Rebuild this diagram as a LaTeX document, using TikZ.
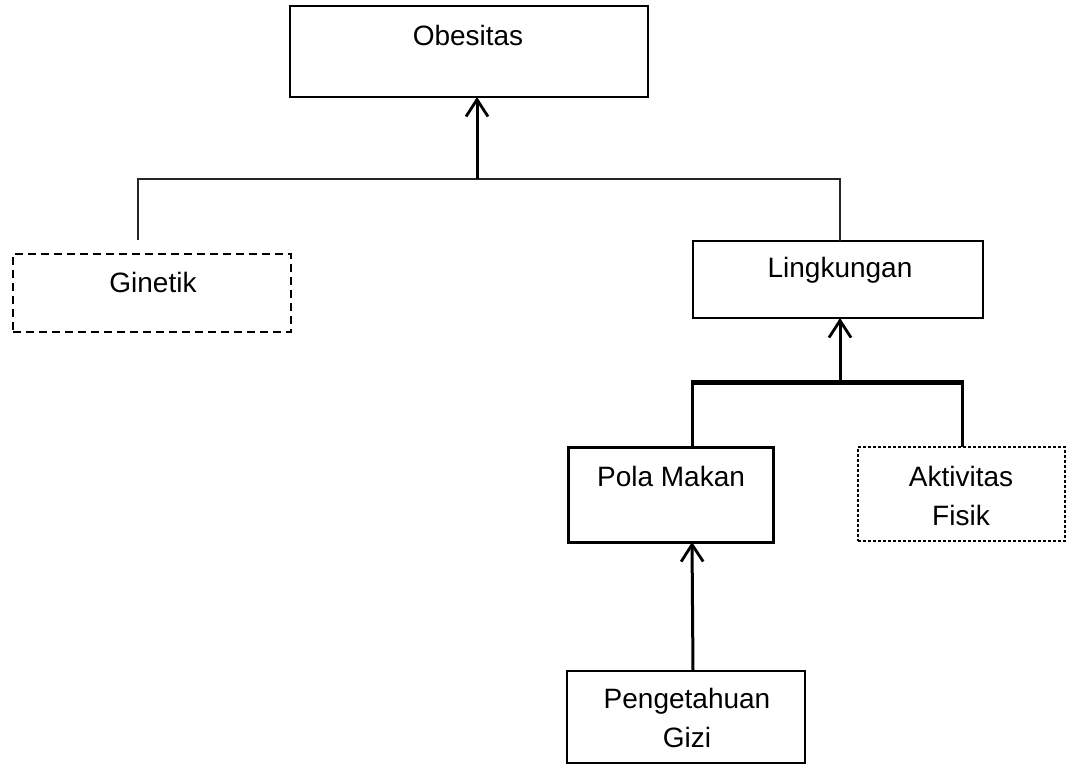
\documentclass[tikz,border=0pt]{standalone}
\usepackage{fontspec}
\setmainfont{Liberation Sans}
\usetikzlibrary{arrows.meta}
\tikzset{
  boxn/.style={draw, inner sep=0pt, outer sep=0pt, line width=#1},
  boxn/.default=1.9pt,
  lbl/.style={inner sep=0pt, align=center, font=\fontsize{28pt}{39pt}\selectfont},
  thinline/.style={line width=1.4pt, draw=black!85},
  arr/.style={line width=3pt, -{Straight Barb[length=17pt,width=22pt,line width=2.8pt]}},
}
\begin{document}
\begin{tikzpicture}[x=1pt,y=-1pt]
\useasboundingbox (0,0) rectangle (1086,765);
% boxes
\node[boxn, minimum width=358pt, minimum height=91pt] (obes) at (469,51.5) {};
\node[lbl] (tobes) at (468,35) {Obesitas};
\node[boxn, dash pattern=on 8pt off 5pt, minimum width=278pt, minimum height=78pt] (gin) at (152,293) {};
\node[lbl] (tgin) at (153,282) {Ginetik};
\node[boxn, minimum width=290pt, minimum height=77pt] (ling) at (838,279.5) {};
\node[lbl] (tling) at (840,270) {Lingkungan};
\node[boxn=3pt, minimum width=205pt, minimum height=95pt] (pola) at (670.5,494.5) {};
\node[lbl] (tpola) at (671,476) {Pola Makan};
\node[boxn=1.3pt, dash pattern=on 3pt off 2pt, minimum width=207pt, minimum height=94pt] (akt) at (961.5,494) {};
\node[lbl] (takt) at (961,495.5) {Aktivitas\\Fisik};
\node[boxn, minimum width=238pt, minimum height=92pt] (peng) at (686,717) {};
\node[lbl] (tpeng) at (687,717.5) {Pengetahuan\\Gizi};
% junctions
\coordinate (j1) at (477,179);
\coordinate (j1l) at (138,179);
\coordinate (j1r) at (840,179);
\coordinate (gtop) at (138,240);
\coordinate (j2) at (840,382);
\coordinate (j2l) at (692,382);
\coordinate (j2r) at (962,382);
% connectors
\draw[thinline] (gtop) -- (j1l) -- (j1r) -- (ling.north -| j1r);
\draw[arr] (j1) -- (obes.south -| j1);
\draw[line width=5pt] ([xshift=-1.5pt]j2l) -- ([xshift=1.5pt]j2r);
\draw[line width=3pt] (j2l) -- (pola.north -| j2l);
\draw[line width=3pt] (j2r) -- (akt.north -| j2r);
\draw[arr] (j2) -- (ling.south -| j2);
\draw[arr] (peng.north -| 693,0) -- (pola.south -| 692,0);
\end{tikzpicture}
\end{document}
